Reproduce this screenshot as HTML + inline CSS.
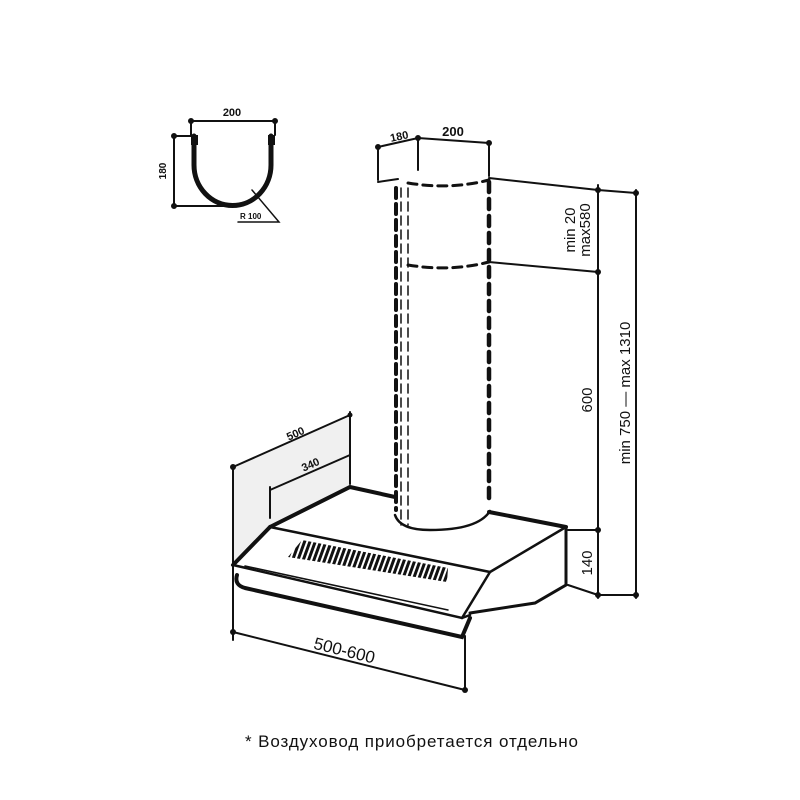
<!DOCTYPE html>
<html><head><meta charset="utf-8"><style>html,body{margin:0;padding:0;background:#fff}svg{display:block}</style></head>
<body>
<svg width="800" height="800" viewBox="0 0 800 800" xmlns="http://www.w3.org/2000/svg" font-family="Liberation Sans, DejaVu Sans, sans-serif">
<defs>
<pattern id="hatch" width="5" height="6" patternUnits="userSpaceOnUse" patternTransform="rotate(20)">
<rect width="5" height="6" fill="#fff"/><rect width="3" height="6" fill="#111"/></pattern>
</defs>
<g stroke="#111" fill="none" stroke-linecap="round">
<!-- profile -->
<line x1="191" y1="121" x2="275" y2="121" stroke-width="2"/>
<circle cx="191" cy="121" r="2.5" fill="#111"/><circle cx="275" cy="121" r="2.5" fill="#111"/>
<line x1="191" y1="121" x2="191" y2="135" stroke-width="2"/><line x1="275" y1="121" x2="275" y2="135" stroke-width="2"/>
<line x1="174" y1="136" x2="174" y2="206" stroke-width="2"/>
<line x1="174" y1="136" x2="195" y2="136" stroke-width="2"/>
<line x1="174" y1="206" x2="232" y2="206" stroke-width="2"/>
<circle cx="174" cy="136" r="2.5" fill="#111"/><circle cx="174" cy="206" r="2.5" fill="#111"/>
<path d="M194 136 V165 A38 40 0 0 0 271 165 V136" stroke-width="5"/>
<rect x="191" y="135" width="7" height="10" fill="#111" stroke="none"/>
<rect x="268" y="135" width="7" height="10" fill="#111" stroke="none"/>
<path d="M252 190 L279 222 H238" stroke-width="1.5"/>
<!-- duct -->
<path d="M378 147 L418 138 L489 143" stroke-width="2"/>
<line x1="378" y1="147" x2="378" y2="180" stroke-width="2"/>
<line x1="418" y1="138" x2="418" y2="170" stroke-width="2"/>
<line x1="489" y1="143" x2="489" y2="176" stroke-width="2"/>
<circle cx="378" cy="147" r="2.5" fill="#111"/><circle cx="418" cy="138" r="2.5" fill="#111"/><circle cx="489" cy="143" r="2.5" fill="#111"/>
<path d="M378 182 L398 179" stroke-width="2"/>
<path d="M408 183 Q450 190 489 180" stroke-width="3" stroke-dasharray="9,6"/>
<path d="M408 265 Q450 272 489 262" stroke-width="3" stroke-dasharray="9,6"/>
<line x1="396" y1="188" x2="396" y2="510" stroke-width="4" stroke-dasharray="10,6"/>
<line x1="401" y1="188" x2="401" y2="525" stroke-width="1.5" stroke-dasharray="9,5"/>
<line x1="408" y1="188" x2="408" y2="525" stroke-width="1.5" stroke-dasharray="9,5"/>
<line x1="489" y1="182" x2="489" y2="505" stroke-width="4.5" stroke-dasharray="10,7"/>
<path d="M395 515 Q400 530 430 530 Q478 530 490 511" stroke-width="2.5"/>
<!-- right dims -->
<path d="M489 178 L598 190 L636 193" stroke-width="2"/>
<line x1="489" y1="262" x2="598" y2="272" stroke-width="2"/>
<line x1="598" y1="185" x2="598" y2="598" stroke-width="2"/>
<line x1="636" y1="190" x2="636" y2="598" stroke-width="2"/>
<line x1="568" y1="530" x2="598" y2="530" stroke-width="2"/>
<line x1="568" y1="585" x2="598" y2="595" stroke-width="2"/>
<line x1="598" y1="595" x2="636" y2="595" stroke-width="2"/>
<g fill="#111" stroke="none"><circle cx="598" cy="190" r="3"/><circle cx="636" cy="193" r="3"/><circle cx="598" cy="272" r="3"/><circle cx="598" cy="530" r="3"/><circle cx="598" cy="595" r="3"/><circle cx="636" cy="595" r="3"/></g>
<!-- back panel -->
<path d="M233 467 L350 415 L350 487 L270 527 L233 565 Z" fill="#f0f0f0" stroke="none"/>
<path d="M233 467 L350 415" stroke-width="2"/>
<line x1="233" y1="467" x2="233" y2="640" stroke-width="2"/>
<line x1="350" y1="412" x2="350" y2="484" stroke-width="2"/>
<path d="M270 490 L350 455" stroke-width="2"/>
<line x1="270" y1="487" x2="270" y2="518" stroke-width="2"/>
<g fill="#111" stroke="none"><circle cx="233" cy="467" r="3"/><circle cx="350" cy="415" r="2.5"/><circle cx="233" cy="632" r="3"/><circle cx="465" cy="690" r="3"/></g>
<!-- hood -->
<path d="M270 527 L350 487 L395 497" stroke-width="4"/>
<path d="M489 512 L566 527" stroke-width="4"/>
<path d="M270 527 L490 572 L566 527" stroke-width="2.5"/>
<path d="M233 565 L270 527" stroke-width="4"/>
<path d="M566 527 V585 L535 603 L470 613" stroke-width="3"/>
<path d="M490 572 L462 618" stroke-width="2.5"/>
<path d="M233 565 L462 618 L470 615" stroke-width="2.5"/>
<path d="M245 566 L448 610" stroke-width="1.5"/>
<path d="M237 575 Q234 585 245 588 L462 637 L470 618" stroke-width="4"/>
<line x1="465" y1="636" x2="465" y2="690" stroke-width="2"/>
<path d="M233 632 L465 690" stroke-width="2"/>
</g>
<path d="M302 540 L448 568 L447 582 L288 557 Z" fill="url(#hatch)"/>
<g fill="#111" font-weight="bold">
<text x="232" y="116" font-size="11" text-anchor="middle">200</text>
<text transform="translate(166,171) rotate(-90)" font-size="10" text-anchor="middle">180</text>
<text x="240" y="219" font-size="8">R 100</text>
<text transform="translate(400,140) rotate(-12)" font-size="11" text-anchor="middle">180</text>
<text x="453" y="136" font-size="13" text-anchor="middle">200</text>
<text transform="translate(297,437) rotate(-24)" font-size="11" text-anchor="middle">500</text>
<text transform="translate(312,468) rotate(-24)" font-size="11" text-anchor="middle">340</text>
</g>
<g fill="#111" font-size="15">
<text transform="translate(575,230) rotate(-90)" text-anchor="middle">min 20</text>
<text transform="translate(590,230) rotate(-90)" text-anchor="middle">max580</text>
<text transform="translate(592,400) rotate(-90)" text-anchor="middle">600</text>
<text transform="translate(592,563) rotate(-90)" text-anchor="middle">140</text>
<text transform="translate(630,393) rotate(-90)" text-anchor="middle">min 750 — max 1310</text>
<text transform="translate(343,656) rotate(14)" text-anchor="middle" font-size="17">500-600</text>
<text x="245" y="747" font-size="17" textLength="333">* Воздуховод приобретается отдельно</text>
</g>
</svg>
</body></html>
